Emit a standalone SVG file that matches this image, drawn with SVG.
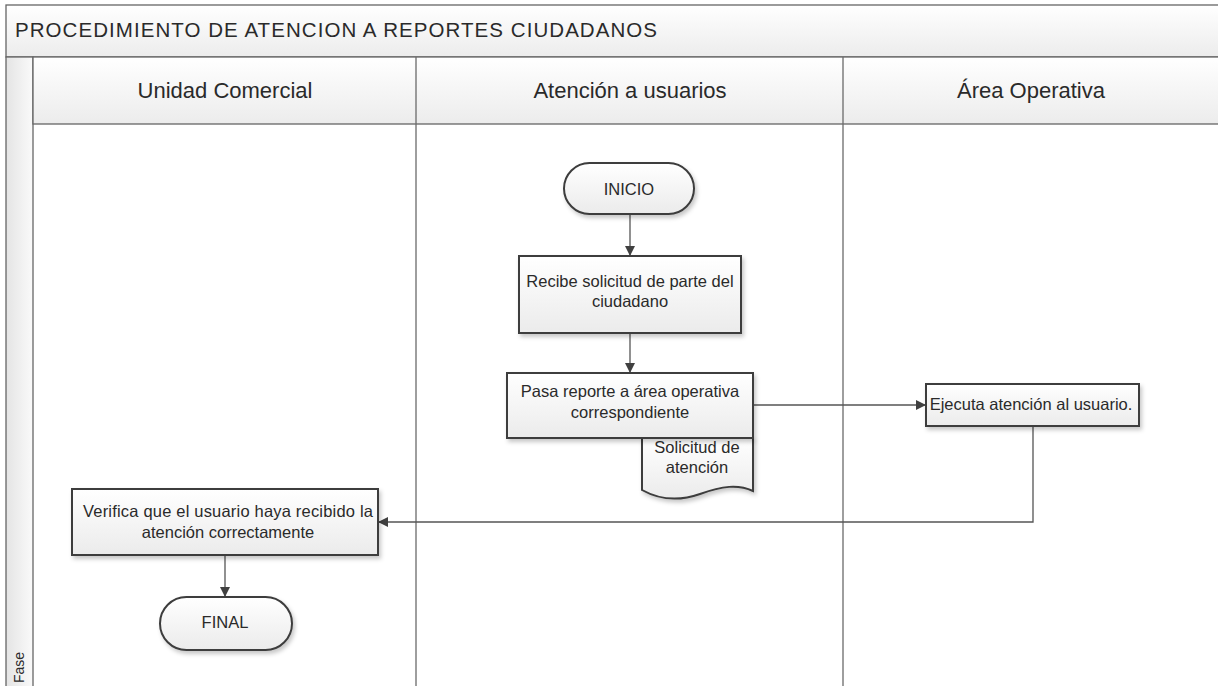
<svg xmlns="http://www.w3.org/2000/svg" width="1218" height="686" viewBox="0 0 1218 686">
<style>
.t{font-family:"Liberation Sans",Arial,sans-serif;fill:#2a2a2a}
.hd{font-size:22px;text-anchor:middle}
.nt{font-size:16.5px;text-anchor:middle}
.box{fill:url(#g);stroke:#3c3c3c;stroke-width:2}
.ln{stroke:#555;stroke-width:1.3;fill:none}
.lane{stroke:#6a6a6a;stroke-width:1.3;fill:none}
</style>
<defs>
<linearGradient id="g" x1="0" y1="0" x2="0" y2="1"><stop offset="0" stop-color="#ffffff"/><stop offset="1" stop-color="#ebebeb"/></linearGradient>
<linearGradient id="hg" x1="0" y1="0" x2="0" y2="1"><stop offset="0" stop-color="#ffffff"/><stop offset="1" stop-color="#ececec"/></linearGradient>
<linearGradient id="sg" x1="0" y1="0" x2="1" y2="0"><stop offset="0" stop-color="#e4e4e4"/><stop offset="1" stop-color="#fafafa"/></linearGradient>
<filter id="sh" x="-10%" y="-10%" width="130%" height="140%"><feDropShadow dx="2" dy="3" stdDeviation="2" flood-color="#000" flood-opacity="0.22"/></filter>
<marker id="ar" markerWidth="10" markerHeight="10" refX="9" refY="5" orient="auto" markerUnits="userSpaceOnUse"><path d="M0,0 L10,5 L0,10 z" fill="#404040"/></marker>
</defs>
<rect width="1218" height="686" fill="#fff"/>
<g id="frame">
<rect x="6" y="5" width="1220" height="52" fill="url(#hg)" stroke="#666" stroke-width="1.3"/>
<text class="t" x="15" y="37" font-size="20.5" textLength="642">PROCEDIMIENTO DE ATENCION A REPORTES CIUDADANOS</text>
<rect x="6" y="57" width="27" height="640" fill="url(#sg)" stroke="#666" stroke-width="1.3"/>
<rect x="33" y="57" width="1200" height="67" fill="url(#hg)" stroke="#666" stroke-width="1.3"/>
<line class="lane" x1="416" y1="57" x2="416" y2="686"/>
<line class="lane" x1="843" y1="57" x2="843" y2="686"/>
<text class="t hd" x="225" y="98">Unidad Comercial</text>
<text class="t hd" x="630" y="98">Atención a usuarios</text>
<text class="t hd" x="1031" y="98">Área Operativa</text>
<text class="t" font-size="14" transform="translate(24,683) rotate(-90)">Fase</text>
</g>
<g id="connectors">
<line class="ln" x1="630" y1="214" x2="630" y2="255" marker-end="url(#ar)"/>
<line class="ln" x1="630" y1="333" x2="630" y2="372" marker-end="url(#ar)"/>
<line class="ln" x1="753" y1="405" x2="925" y2="405" marker-end="url(#ar)"/>
<polyline class="ln" points="1033,426 1033,522 379,522" marker-end="url(#ar)"/>
<line class="ln" x1="225" y1="555" x2="225" y2="596" marker-end="url(#ar)"/>
</g>
<g id="inicio">
<rect class="box" x="564" y="163" width="130" height="51" rx="25.5" filter="url(#sh)"/>
<text class="t nt" x="629" y="195">INICIO</text>
</g>
<g id="recibe">
<rect class="box" x="519" y="256" width="222" height="77" filter="url(#sh)"/>
<text class="t nt" x="630" y="287">Recibe solicitud de parte del</text>
<text class="t nt" x="630" y="307">ciudadano</text>
</g>
<g id="documento">
<path class="box" d="M642,438 L753,438 L753,491 C738,484 722,486 700,494 C680,501 660,500 642,490 Z" filter="url(#sh)"/>
<text class="t nt" x="697" y="453">Solicitud de</text>
<text class="t nt" x="697" y="473">atención</text>
</g>
<g id="pasa">
<rect class="box" x="507" y="373" width="246" height="65" filter="url(#sh)"/>
<text class="t nt" x="630" y="397">Pasa reporte a área operativa</text>
<text class="t nt" x="630" y="418">correspondiente</text>
</g>
<g id="ejecuta">
<rect class="box" x="926" y="384" width="213" height="42" filter="url(#sh)"/>
<text class="t nt" x="1031" y="410">Ejecuta atención al usuario.</text>
</g>
<g id="verifica">
<rect class="box" x="72" y="489" width="306" height="66" filter="url(#sh)"/>
<text class="t nt" x="228" y="517" textLength="290">Verifica que el usuario haya recibido la</text>
<text class="t nt" x="228" y="538">atención correctamente</text>
</g>
<g id="final">
<rect class="box" x="160" y="597" width="132" height="53" rx="26.5" filter="url(#sh)"/>
<text class="t nt" x="225" y="628">FINAL</text>
</g>
</svg>
